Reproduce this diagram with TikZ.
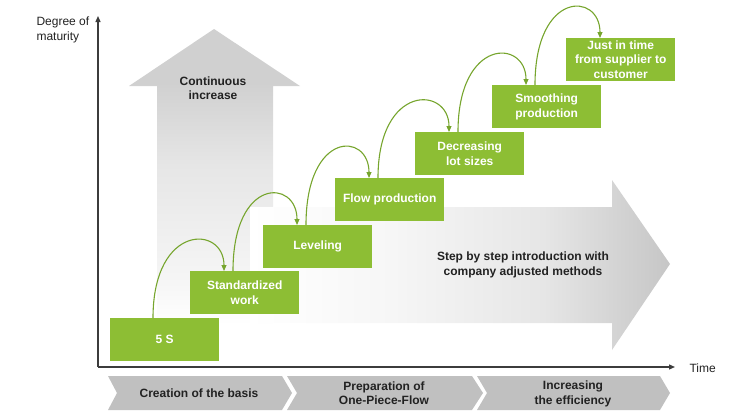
\documentclass[tikz,border=0pt]{standalone}
\usepackage{fontspec}
\setmainfont{Liberation Sans}
\usetikzlibrary{arrows.meta,calc}
\definecolor{boxgreen}{RGB}{141,190,52}
\definecolor{arcgreen}{RGB}{118,165,45}
\definecolor{axisgray}{RGB}{60,60,60}
\definecolor{chevgray}{RGB}{192,192,192}
\definecolor{arrowgray}{RGB}{208,208,208}
\definecolor{arrowmid}{RGB}{230,230,230}
\definecolor{arrowlow}{RGB}{246,246,246}
\definecolor{rightgray}{RGB}{198,198,198}
\definecolor{txtdark}{RGB}{34,34,34}
\pgfdeclareverticalshading{upfade}{100bp}{color(0bp)=(white); color(25bp)=(white); color(32bp)=(arrowlow); color(52bp)=(arrowmid); color(66bp)=(arrowgray); color(100bp)=(arrowgray)}
\pgfdeclarehorizontalshading{rightfade}{100bp}{color(0bp)=(white); color(25bp)=(white); color(42bp)=(arrowlow); color(60bp)=(arrowmid); color(75bp)=(rightgray); color(100bp)=(rightgray)}
\tikzset{
  stepbox/.style={fill=boxgreen,draw=none,minimum width=109pt,minimum height=43pt,inner sep=0pt,
    anchor=north west,align=center,text=white,font=\fontsize{12}{14.5}\selectfont\bfseries},
  jump/.style={draw=arcgreen,line width=1.1pt,-{Triangle[length=6pt,width=5pt]}},
  axisline/.style={draw=axisgray,line width=1.3pt,-{Triangle[length=6pt,width=5pt]}},
  chev/.style={fill=chevgray,draw=none},
  graytext/.style={text=txtdark,align=center,font=\fontsize{12}{14.5}\selectfont\bfseries},
  plaintext/.style={text=txtdark,font=\fontsize{12}{14.5}\selectfont}
}
\begin{document}
\begin{tikzpicture}[x=1pt,y=-1pt]
\useasboundingbox (0,0) rectangle (740,415);
% big gray arrows
\shade[shading=upfade]
  (157,325) -- (157,86) -- (129,86) -- (214,29) -- (300,86) -- (273,86) -- (273,325) -- cycle;
\shade[shading=rightfade]
  (250,207) -- (612,207) -- (612,180) -- (670,264) -- (612,350) -- (612,323) -- (250,323) -- cycle;
\node[graytext] (cont) at (213,88) {Continuous\\increase};
\node[graytext] (step) at (523,265) {Step by step introduction with\\company adjusted methods};
% axes
\coordinate (O) at (98,367);
\coordinate (ytop) at (98,16);
\coordinate (xend) at (675,367);
\draw[axisline] (O) -- (ytop);
\draw[axisline] (O) -- (xend);
\node[plaintext,align=left,anchor=west] (dm) at (33,30) {Degree of\\maturity};
\node[plaintext,anchor=west] (time) at (686,368) {Time};
% steps
\node[stepbox] (b1) at (110,318) {5 S};
\node[stepbox] (b2) at (190,271) {Standardized\\work};
\node[stepbox] (b3) at (263,225) {Leveling};
\node[stepbox] (b4) at (335,178) {Flow production};
\node[stepbox] (b5) at (415,132) {Decreasing\\lot sizes};
\node[stepbox] (b6) at (492,85) {Smoothing\\production};
\node[stepbox] (b7) at (566,38) {Just in time\\from supplier to\\customer};
\foreach \a/\b in {b1/b2,b2/b3,b3/b4,b4/b5,b5/b6,b6/b7}{
  \coordinate (s\a) at ($(\a.north west)+(43,0)$);
  \coordinate (e\a) at ($(\b.north west)+(34,0)$);
  \draw[jump] (s\a) .. controls +(0,-95) and +(0,-46) .. (e\a);
}
% chevrons
\fill[chev] (108,376) -- (282,376) -- (292,393) -- (282,410) -- (108,410) -- (117,393) -- cycle;
\fill[chev] (287,376) -- (472,376) -- (483,393) -- (472,410) -- (287,410) -- (297,393) -- cycle;
\fill[chev] (477,376) -- (660,376) -- (670,393) -- (660,410) -- (477,410) -- (487,393) -- cycle;
\node[graytext] (c1) at (199,393) {Creation of the basis};
\node[graytext] (c2) at (384,393) {Preparation of\\One-Piece-Flow};
\node[graytext] (c3) at (573,394) {Increasing\\the efficiency};
\end{tikzpicture}
\end{document}
